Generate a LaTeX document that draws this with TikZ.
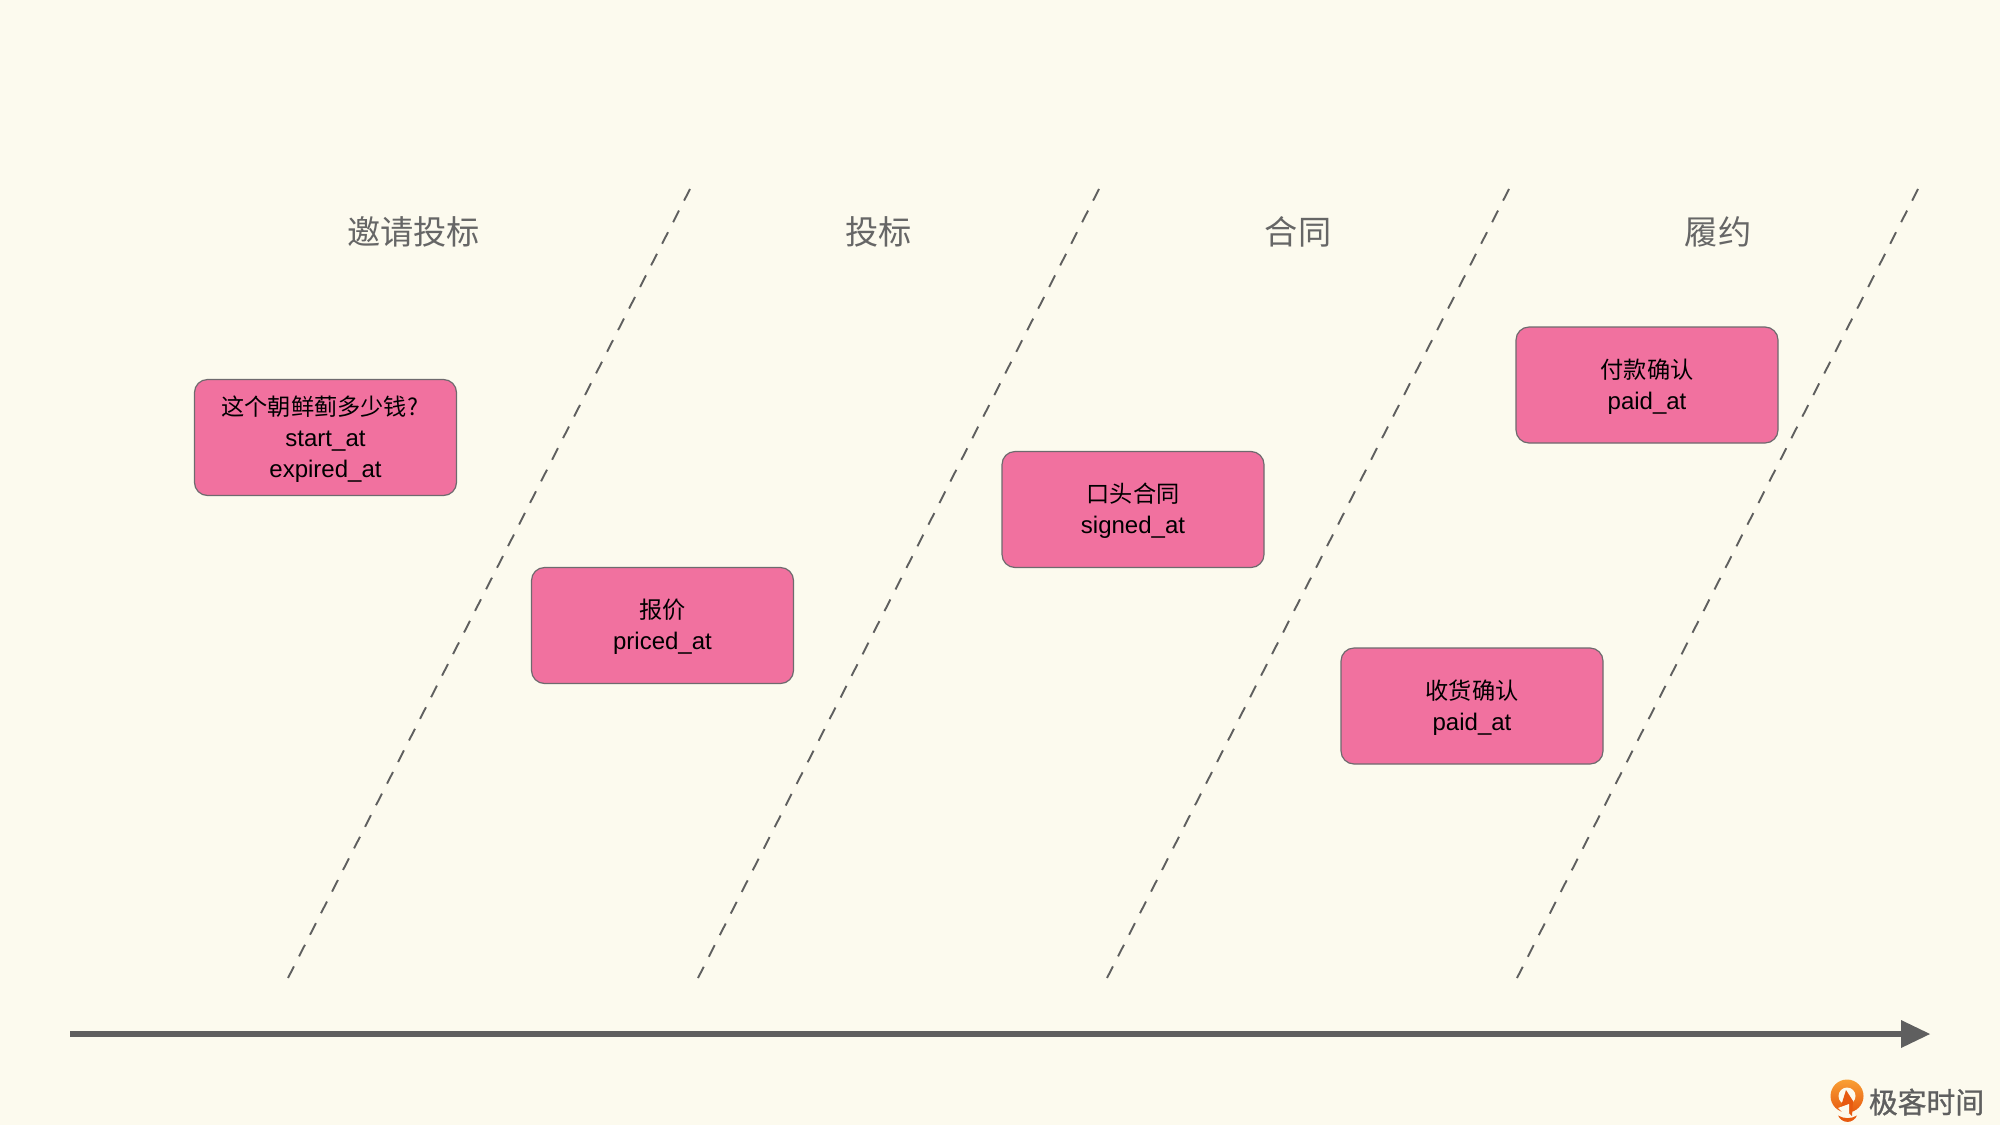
\documentclass[tikz,border=0pt]{standalone}
\usepackage{fontspec}
\setmainfont{Liberation Sans}
\newfontfamily\cjk{Noto Sans CJK SC}
\newfontfamily\cjkb[FakeBold=1]{Noto Sans CJK SC}
\definecolor{bgc}{HTML}{FCFAEE}
\definecolor{boxc}{HTML}{F1719F}
\definecolor{edgec}{HTML}{6E6A6E}
\definecolor{inkc}{HTML}{5F5F5F}
\definecolor{headc}{HTML}{666666}
\definecolor{logoa}{HTML}{F9A035}
\definecolor{logob}{HTML}{E75A10}
\newcommand{\cj}[1]{{\cjk\fontsize{11.6}{15.5}\selectfont #1}}
\newcommand{\cardtext}[1]{\raisebox{-1.3pt}[\height][\depth]{\begin{tabular}{@{}c@{}}#1\end{tabular}}}
\tikzset{
  x=0.5pt,y=-0.5pt,
  card/.style={draw=edgec,line width=0.6pt,fill=boxc,rounded corners=6.5pt,
    minimum width=131pt,minimum height=58pt,inner sep=0pt,text=black,
    font=\fontsize{12}{15.5}\selectfont},
  head/.style={text=headc,inner sep=0pt,font=\cjk\fontsize{16.6}{20}\selectfont},
  lane/.style={draw=inkc,line width=0.95pt,dash pattern=on 6.5pt off 5.617pt},
  axis/.style={draw=inkc,line width=3.2pt},
}
\begin{document}
\begin{tikzpicture}
\useasboundingbox (0,0) rectangle (2000,1125);
\fill[bgc] (0,0) rectangle (2000,1125);
% lanes
\coordinate (l1t) at (690,189); \coordinate (l1b) at (288,978);
\coordinate (l2t) at (1099,189); \coordinate (l2b) at (698,978);
\coordinate (l3t) at (1509,189); \coordinate (l3b) at (1107,978);
\coordinate (l4t) at (1918,189); \coordinate (l4b) at (1517,978);
\draw[lane] (l1t) -- (l1b);
\draw[lane] (l2t) -- (l2b);
\draw[lane] (l3t) -- (l3b);
\draw[lane] (l4t) -- (l4b);
% headings
\node[head] (h1) at (413.5,232) {邀请投标};
\node[head] (h2) at (878.5,232) {投标};
\node[head] (h3) at (1298,232) {合同};
\node[head] (h4) at (1718,232) {履约};
% cards
\node[card] (c1) at (325.5,437.5) {\cardtext{\cj{这个朝鲜蓟多少钱?\hspace*{5.7pt}}\\start\_at\\expired\_at}};
\node[card] (c2) at (662.5,625.5) {\cardtext{\cj{报价}\\priced\_at}};
\node[card] (c3) at (1133,509.5) {\cardtext{\cj{口头合同}\\signed\_at}};
\node[card] (c4) at (1472,706) {\cardtext{\cj{收货确认}\\paid\_at}};
\node[card] (c5) at (1647,385) {\cardtext{\cj{付款确认}\\paid\_at}};
% time axis
\coordinate (a0) at (70,1034);
\coordinate (a1) at (1902,1034);
\draw[axis] (a0) -- (a1);
\fill[inkc] (1901,1020) -- (1930,1034) -- (1901,1048) -- cycle;
% logo
\shade[top color=logoa,bottom color=logob] (1847,1096) circle (16.5);
\fill[bgc] (1847,1096) circle (8.5);
\fill[logob] (1841,1106) -- (1846,1090) -- (1853,1101) -- (1852,1116) -- cycle;
\fill[bgc] (1838,1108) -- (1843,1113) -- (1849,1113) -- (1849,1104) -- cycle;
\fill[logob] (1838,1115.5) .. controls (1844,1119) and (1851,1119) .. (1857,1115.5) .. controls (1853,1124) and (1842,1124) .. (1838,1115.5) -- cycle;
\node[text=inkc,inner sep=0pt,font=\cjkb\fontsize{14.4}{18}\selectfont] (brand) at (1926.5,1102) {极客时间};
\end{tikzpicture}
\end{document}
